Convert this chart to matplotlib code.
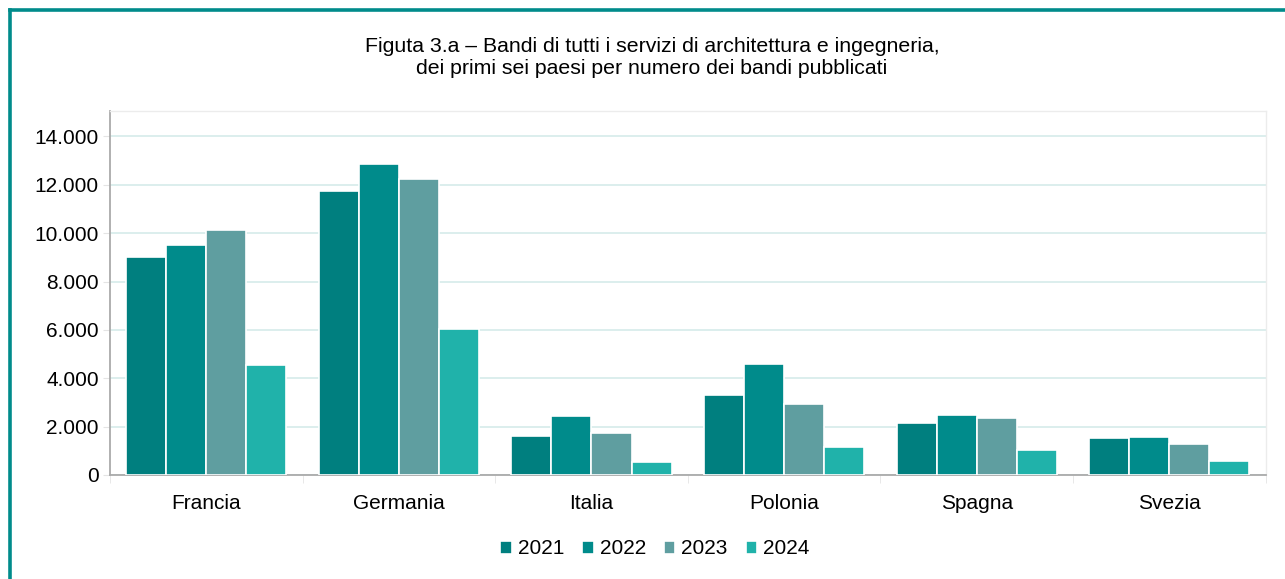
import numpy as np
import matplotlib
matplotlib.use('Agg')
import matplotlib.pyplot as plt
from matplotlib.lines import Line2D
from matplotlib.ticker import FuncFormatter

plt.rcParams['font.family'] = ['Liberation Sans', 'DejaVu Sans']

# data
paesi = ['Francia', 'Germania', 'Italia', 'Polonia', 'Spagna', 'Svezia']
anni = ['2021', '2022', '2023', '2024']
v2021 = [9010, 11730, 1620, 3320, 2150, 1530]
v2022 = [9490, 12840, 2440, 4610, 2480, 1560]
v2023 = [10120, 12250, 1720, 2930, 2350, 1270]
v2024 = [4540, 6030, 540, 1140, 1030, 590]
colori = ['#007f7f', '#008b8b', '#5f9ea0', '#20b2aa']

titolo = ('Figuta 3.a \u2013 Bandi di tutti i servizi di architettura e ingegneria,\n'
          'dei primi sei paesi per numero dei bandi pubblicati')

fig = plt.figure(figsize=(12.85, 5.79), dpi=100)
ax = fig.add_axes([110/1285, 1 - 475/579, (1265.5-110)/1285, (475-111)/579])

# bars
x = np.arange(len(paesi))
pitch = 0.208
for i, (serie, col) in enumerate(zip([v2021, v2022, v2023, v2024], colori)):
    ax.bar(x + (i - 1.5)*pitch, serie, width=pitch, color=col,
           edgecolor='white', linewidth=1.2, label=anni[i], zorder=3)

# axes
ax.set_xlim(-0.5, len(paesi) - 0.5)
ax.set_ylim(0, 15050)
ax.set_yticks(range(0, 14001, 2000))
ax.yaxis.set_major_formatter(FuncFormatter(lambda v, p: f'{int(v):,}'.replace(',', '.')))
ax.set_xticks(x)
ax.set_xticklabels(paesi)
ax.set_xticks(np.arange(-0.5, len(paesi)), minor=True)
ax.tick_params(axis='x', which='major', length=0, pad=14, labelsize=15)
ax.tick_params(axis='x', which='minor', length=6, color='#e4e4e4')
ax.tick_params(axis='y', length=5, color='#e4e4e4', pad=3, labelsize=15)
ax.grid(axis='y', color='#d6ebea', linewidth=1.2, zorder=0)
for s in ['top', 'right']:
    ax.spines[s].set_color('#ececec')
    ax.spines[s].set_linewidth(1)
ax.spines['left'].set_color('#aaaaaa')
ax.spines['bottom'].set_color('#aaaaaa')
ax.spines['left'].set_linewidth(1.3)
ax.spines['bottom'].set_linewidth(1.3)

# title
fig.text(652/1285, 1 - 57/579, titolo, ha='center', va='center',
         fontsize=15.3, linespacing=1.2)

# legend
ax.legend(loc='center', bbox_to_anchor=(655/1285, 1 - 549/579),
          bbox_transform=fig.transFigure, ncol=4, frameon=False,
          fontsize=15, handlelength=0.55, handleheight=0.6,
          handletextpad=0.3, columnspacing=0.85)

# teal frame on top and left
fig.add_artist(Line2D([9.5/1285, 1], [1 - 10/579, 1 - 10/579],
                      color='#008b8b', linewidth=2.6))
fig.add_artist(Line2D([9.5/1285, 9.5/1285], [0, 1 - 10/579],
                      color='#008b8b', linewidth=2.6))

fig.savefig('out.png', dpi=100)
